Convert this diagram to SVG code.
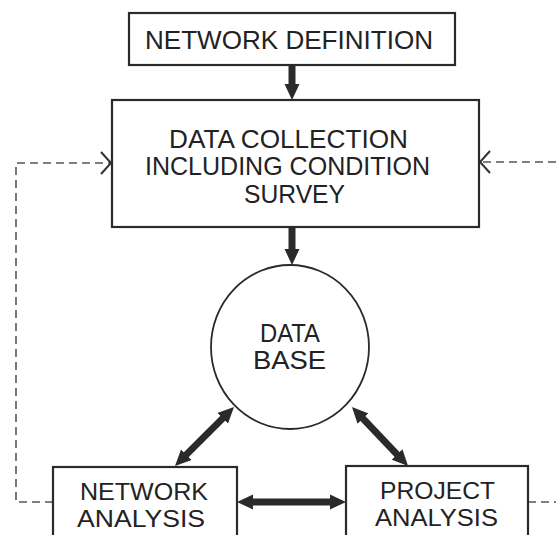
<svg xmlns="http://www.w3.org/2000/svg" width="556" height="535" viewBox="0 0 556 535">
  <style>
    .box { fill: #fff; stroke: #2a2a2a; stroke-width: 2.2; }
    .circ { fill: #fff; stroke: #2a2a2a; stroke-width: 1.8; }
    .lbl { font-family: "Liberation Sans", Arial, sans-serif; font-size: 25px; fill: #222; text-anchor: start; }
    .sm { font-size: 23px; }
    .thick { stroke: #2a2a2a; stroke-width: 7; fill: none; }
    .dash { stroke: #555; stroke-width: 1.6; fill: none; stroke-dasharray: 8 5; }
    .chev { stroke: #333; stroke-width: 2; fill: none; }
  </style>
  <defs>
    <marker id="head" markerUnits="userSpaceOnUse" markerWidth="17" markerHeight="16" viewBox="0 -8 17 16" refX="1" refY="0" orient="auto-start-reverse">
      <path d="M0,-7.5 L16,0 L0,7.5 z" fill="#2a2a2a"/>
    </marker>
  </defs>

  <rect width="556" height="535" fill="#fff"/>

  <g id="connectors">
    <line class="thick" x1="292" y1="65" x2="292" y2="85" marker-end="url(#head)"/>
    <line class="thick" x1="292" y1="227" x2="292" y2="250" marker-end="url(#head)"/>
    <line class="thick" x1="223.4" y1="417.6" x2="185.6" y2="455.4" marker-start="url(#head)" marker-end="url(#head)"/>
    <line class="thick" x1="362.3" y1="417.9" x2="397.7" y2="455.1" marker-start="url(#head)" marker-end="url(#head)"/>
    <line class="thick" x1="252" y1="502" x2="331" y2="502" marker-start="url(#head)" marker-end="url(#head)"/>
    <path class="dash" d="M53,502 H16 V163 H111"/>
    <path class="chev" d="M101,152 L111,163 L101,174"/>
    <path class="dash" d="M556,162 H480"/>
    <path class="chev" d="M490,151 L480,162 L490,173"/>
    <path class="dash" d="M528,502 H556"/>
  </g>

  <g id="network-definition">
    <rect class="box" x="129" y="13" width="326" height="52"/>
    <text class="lbl" x="145" y="49" textLength="288" lengthAdjust="spacingAndGlyphs">NETWORK DEFINITION</text>
  </g>

  <g id="data-collection">
    <rect class="box" x="112" y="100" width="367" height="127"/>
    <text class="lbl" x="169" y="148" textLength="239" lengthAdjust="spacingAndGlyphs">DATA COLLECTION</text>
    <text class="lbl" x="145" y="175" textLength="285" lengthAdjust="spacingAndGlyphs">INCLUDING CONDITION</text>
    <text class="lbl" x="244" y="203" textLength="101" lengthAdjust="spacingAndGlyphs">SURVEY</text>
  </g>

  <g id="data-base">
    <ellipse class="circ" cx="290" cy="347" rx="79" ry="82"/>
    <text class="lbl" x="260" y="342" textLength="60" lengthAdjust="spacingAndGlyphs">DATA</text>
    <text class="lbl" x="253" y="369" textLength="73" lengthAdjust="spacingAndGlyphs">BASE</text>
  </g>

  <g id="network-analysis">
    <rect class="box" x="53" y="467" width="184" height="80"/>
    <text class="lbl sm" x="80" y="500" textLength="128" lengthAdjust="spacingAndGlyphs">NETWORK</text>
    <text class="lbl sm" x="77" y="527" textLength="128" lengthAdjust="spacingAndGlyphs">ANALYSIS</text>
  </g>

  <g id="project-analysis">
    <rect class="box" x="346" y="466" width="182" height="80"/>
    <text class="lbl sm" x="380" y="499" textLength="115" lengthAdjust="spacingAndGlyphs">PROJECT</text>
    <text class="lbl sm" x="375" y="526" textLength="123" lengthAdjust="spacingAndGlyphs">ANALYSIS</text>
  </g>
</svg>
